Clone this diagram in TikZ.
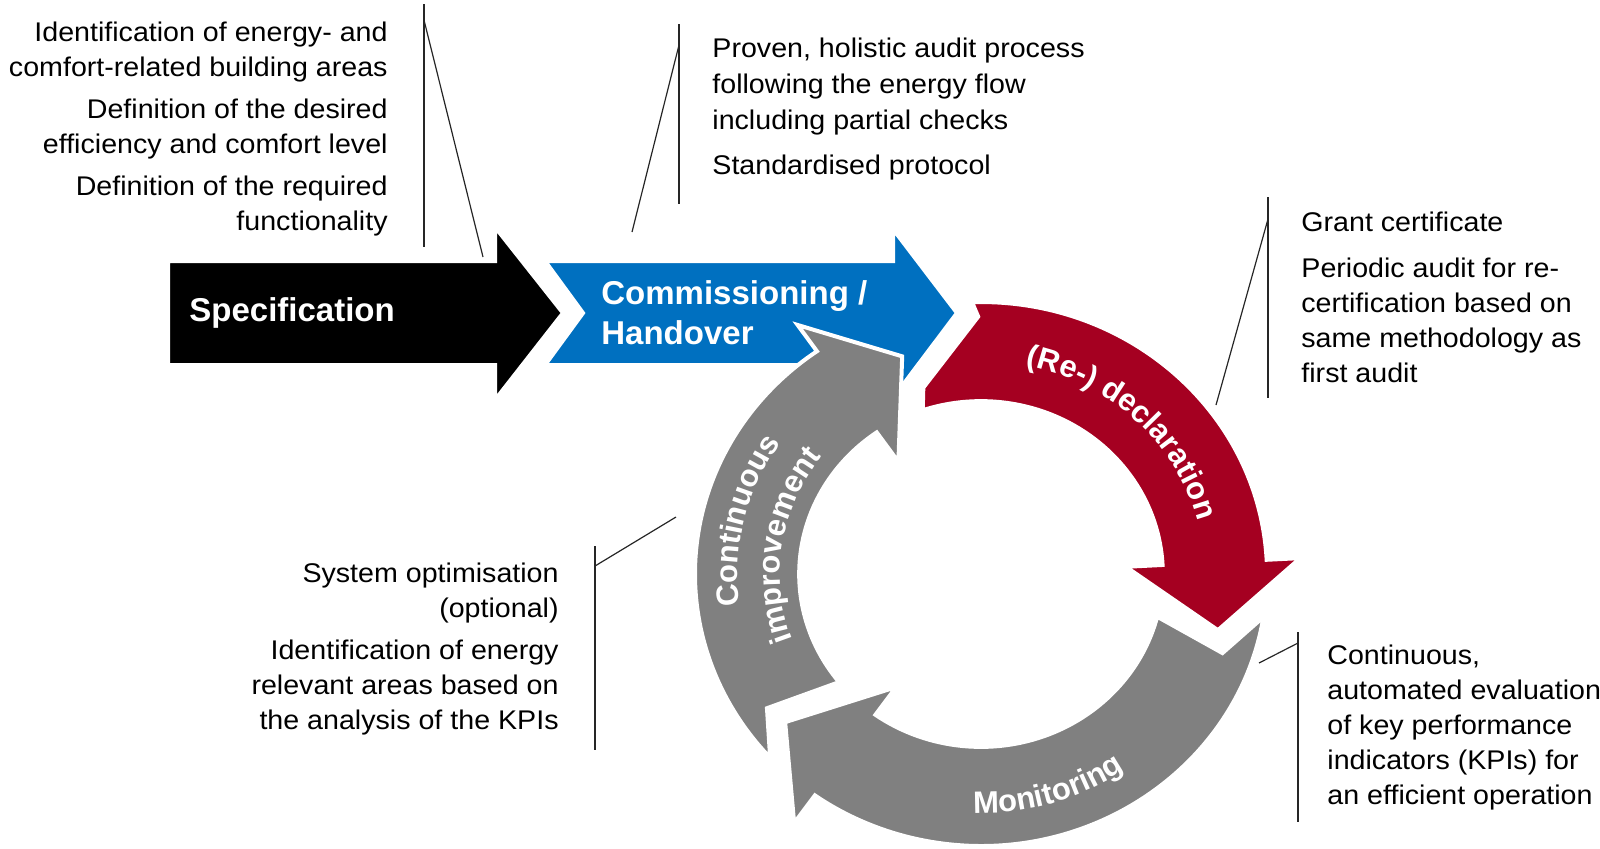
\documentclass[tikz,border=0pt]{standalone}
\usepackage{fontspec}
\setmainfont{Liberation Sans}
\newfontfamily\notefont{Liberation Sans}[FakeStretch=1.06]
\usetikzlibrary{decorations.text}
\definecolor{comblue}{RGB}{0,112,192}
\definecolor{declred}{RGB}{165,0,33}
\definecolor{cyclegray}{RGB}{128,128,128}
\begin{document}
\begin{tikzpicture}[x=0.5pt,y=-0.5pt,
    note/.style={inner sep=0pt, font=\notefont\fontsize{13.5}{17.5}\selectfont},
    bar/.style={line width=0.6pt, black!85},
    slab/.style={draw=white, line width=2pt, line join=miter},
    arrowtext/.style={inner sep=0pt, text=white, font=\fontsize{16.5}{20}\selectfont\bfseries},
    ringtext/.style={decorate, decoration={text along path, text align=center, text color=white,
      text={|\fontsize{15.5}{18}\selectfont\bfseries|#1}}}]
  \useasboundingbox (0,0) rectangle (1600,848);

  % straight arrows
  \filldraw[slab, fill=black] (168,261) -- (495,261) -- (495,227) -- (563,313) -- (495,400)
    -- (495,365) -- (168,365) -- cycle;
  \filldraw[slab, fill=comblue] (545,261) -- (893,261) -- (893,229) -- (957,313) -- (893,398)
    -- (893,365) -- (545,365) -- (583,313) -- cycle;
  \node[arrowtext, anchor=west] (spec) at (189,313) {Specification};
  \node[arrowtext, anchor=west, align=left] (comm) at (601,313) {Commissioning /\\Handover};

  % cycle (slightly wider than high)
  \begin{scope}[shift={(981,574)}, x=0.51075pt, y=0.48565pt]
    \filldraw[slab, fill=cyclegray] (222.5:280) arc[start angle=222.5, end angle=125, radius=280]
      -- (125:313) -- (109:237) -- (125:141) -- (125:178)
      arc[start angle=125, end angle=218.7, radius=178] -- (213.4:251) -- cycle;
    \filldraw[slab, fill=declred] (91.8:280) arc[start angle=91.8, end angle=3, radius=280]
      -- (3:313) -- (-14:239) -- (3:142) -- (3:178)
      arc[start angle=3, end angle=108.7, radius=178] -- (106.4:200) -- (90.6:265) -- cycle;
    \filldraw[slab, fill=cyclegray] (-9.1:280) arc[start angle=-9.1, end angle=-125.5, radius=280]
      -- (-125.5:315) -- (-141.5:245) -- (-125.5:143) -- (-125.5:178)
      arc[start angle=-125.5, end angle=-14.3, radius=178] -- (-19:250) -- cycle;

    \path[ringtext={(Re-) declaration}] (96:219) arc[start angle=96, end angle=-4, radius=219];
    \path[ringtext=Monitoring] (237:246) arc[start angle=237, end angle=337, radius=246];
    \path[ringtext=Continuous] (217:238) arc[start angle=217, end angle=117, radius=238];
    \path[ringtext=improvement] (221.3:197) arc[start angle=221.3, end angle=121.3, radius=197];
  \end{scope}

  % notes
  \node[note, anchor=north east, align=right] (specnote) at (388,22)
    {Identification of energy- and\\comfort-related building areas\\[3.5pt]Definition of the desired\\efficiency and comfort level\\[3.5pt]Definition of the required\\functionality};
  \node[note, anchor=north west, align=left] (commnote) at (712,38)
    {Proven, holistic audit process\\[0.5pt]following the energy flow\\[0.5pt]including partial checks\\[5pt]Standardised protocol};
  \node[note, anchor=north west, align=left] (declnote) at (1301,212)
    {Grant certificate\\[5.5pt]Periodic audit for re-\\certification based on\\same methodology as\\first audit};
  \node[note, anchor=north west, align=left] (monnote) at (1327,645)
    {Continuous,\\automated evaluation\\of key performance\\indicators (KPIs) for\\an efficient operation};
  \node[note, anchor=north east, align=right] (impnote) at (559,563)
    {System optimisation\\(optional)\\[3.5pt]Identification of energy\\relevant areas based on\\the analysis of the KPIs};

  % callout lines
  \coordinate (s1) at (424,4);    \coordinate (s2) at (424,247);
  \coordinate (s3) at (424,20);   \coordinate (s4) at (483,257);
  \coordinate (c1) at (679,24);   \coordinate (c2) at (679,204);
  \coordinate (c3) at (679,45);   \coordinate (c4) at (632,232);
  \coordinate (d1) at (1268,197); \coordinate (d2) at (1268,398);
  \coordinate (d3) at (1268,219); \coordinate (d4) at (1216,405);
  \coordinate (m1) at (1298,632); \coordinate (m2) at (1298,822);
  \coordinate (m3) at (1298,643); \coordinate (m4) at (1259,663);
  \coordinate (i1) at (595,546);  \coordinate (i2) at (595,750);
  \coordinate (i3) at (595,566);  \coordinate (i4) at (676,517);
  \begin{scope}[bar]
    \draw (s1) to (s2);
    \draw (s3) to (s4);
    \draw (c1) to (c2);
    \draw (c3) to (c4);
    \draw (d1) to (d2);
    \draw (d3) to (d4);
    \draw (m1) to (m2);
    \draw (m3) to (m4);
    \draw (i1) to (i2);
    \draw (i3) to (i4);
  \end{scope}
\end{tikzpicture}
\end{document}
